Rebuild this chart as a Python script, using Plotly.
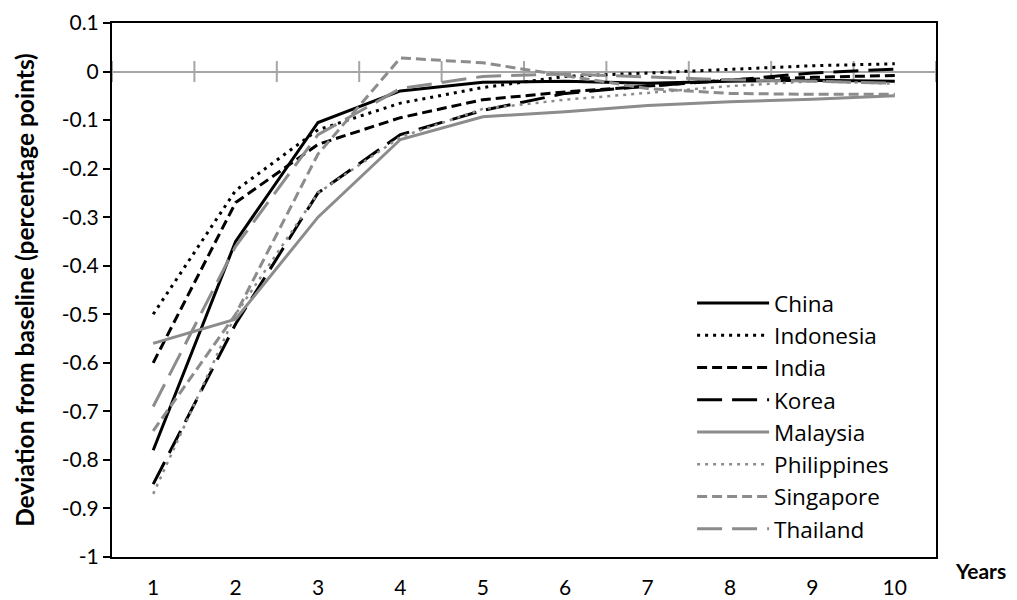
import plotly.graph_objects as go

years = [1, 2, 3, 4, 5, 6, 7, 8, 9, 10]

china       = [-0.78, -0.35, -0.105, -0.040, -0.022, -0.020, -0.024, -0.020, -0.018, -0.020]
indonesia   = [-0.50, -0.245, -0.120, -0.065, -0.033, -0.010, -0.003, 0.005, 0.012, 0.016]
india       = [-0.60, -0.270, -0.150, -0.095, -0.058, -0.042, -0.030, -0.017, -0.012, -0.008]
korea       = [-0.85, -0.520, -0.250, -0.130, -0.080, -0.045, -0.030, -0.018, -0.003, 0.005]
malaysia    = [-0.56, -0.510, -0.300, -0.140, -0.093, -0.083, -0.070, -0.062, -0.057, -0.050]
philippines = [-0.87, -0.500, -0.250, -0.135, -0.077, -0.058, -0.044, -0.030, -0.020, -0.025]
singapore   = [-0.74, -0.500, -0.170, 0.028, 0.018, -0.008, -0.035, -0.045, -0.047, -0.047]
thailand    = [-0.69, -0.360, -0.130, -0.035, -0.010, -0.005, -0.011, -0.017, -0.020, -0.024]

y_tick_vals = [0.1, 0, -0.1, -0.2, -0.3, -0.4, -0.5, -0.6, -0.7, -0.8, -0.9, -1]
y_tick_text = ["0.1", "0", "-0.1", "-0.2", "-0.3", "-0.4", "-0.5", "-0.6", "-0.7", "-0.8", "-0.9", "-1"]

BLACK = "#000000"
GRAY = "#8c8c8c"
FONT = "Lato"

series = [
    ("China", china, BLACK, "solid", 3),
    ("Indonesia", indonesia, BLACK, "3px,5px", 3),
    ("India", india, BLACK, "10px,5px", 3),
    ("Korea", korea, BLACK, "25px,10px", 3),
    ("Malaysia", malaysia, GRAY, "solid", 3),
    ("Philippines", philippines, GRAY, "3px,5px", 2.5),
    ("Singapore", singapore, GRAY, "10px,5px", 3),
    ("Thailand", thailand, GRAY, "25px,10px", 3),
]

fig = go.Figure()

# tick marks on the zero-crossing category axis (category boundaries)
boundaries = [y - 0.5 for y in years] + [years[-1] + 0.5]
fig.add_trace(go.Scatter(
    x=boundaries, y=[0] * len(boundaries), mode="markers",
    marker=dict(symbol="line-ns", size=15, line=dict(color="#a6a6a6", width=2)),
    showlegend=False, hoverinfo="skip"))

for name, vals, color, dash, w in series:
    fig.add_trace(go.Scatter(
        x=years, y=vals, mode="lines", name=name,
        line=dict(color=color, dash=dash, width=w)))

fig.update_layout(
    width=1017, height=600,
    margin=dict(l=112, r=81, t=23, b=43, autoexpand=False),
    paper_bgcolor="white", plot_bgcolor="white",
    font=dict(family=FONT, size=21, color="black"),
    showlegend=True,
    legend=dict(
        x=0.704, y=0.515, xanchor="left", yanchor="top",
        bgcolor="rgba(0,0,0,0)", borderwidth=0,
        font=dict(family="Open Sans", size=22.5, color="black"),
        itemwidth=72, tracegroupgap=0,
    ),
    xaxis=dict(
        range=[0.5, 10.5], tickmode="array", tickvals=years,
        ticktext=[str(y) for y in years],
        showgrid=False, zeroline=False, automargin=False,
        showline=True, linecolor="black", linewidth=2, mirror=True,
        ticks="", ticklabelstandoff=11,
        tickfont=dict(family=FONT, size=21),
    ),
    yaxis=dict(
        range=[-1, 0.1], tickmode="array", tickvals=y_tick_vals, ticktext=y_tick_text,
        showgrid=False, automargin=False,
        zeroline=True, zerolinecolor="#a6a6a6", zerolinewidth=2,
        showline=True, linecolor="black", linewidth=2, mirror=True,
        ticks="outside", ticklen=7, tickwidth=2, tickcolor="black",
        tickfont=dict(family=FONT, size=21),
        title=dict(text="<b>Deviation from baseline (percentage points)</b>",
                   font=dict(family=FONT, size=24.5), standoff=20),
    ),
    annotations=[dict(
        text="<b>Years</b>", xref="paper", yref="paper",
        x=1.0 + (981 - 936) / 824, y=-(570 - 557) / 534,
        xanchor="center", yanchor="middle", showarrow=False,
        font=dict(family=FONT, size=21, color="black"))],
)

fig.write_html("out.html")
